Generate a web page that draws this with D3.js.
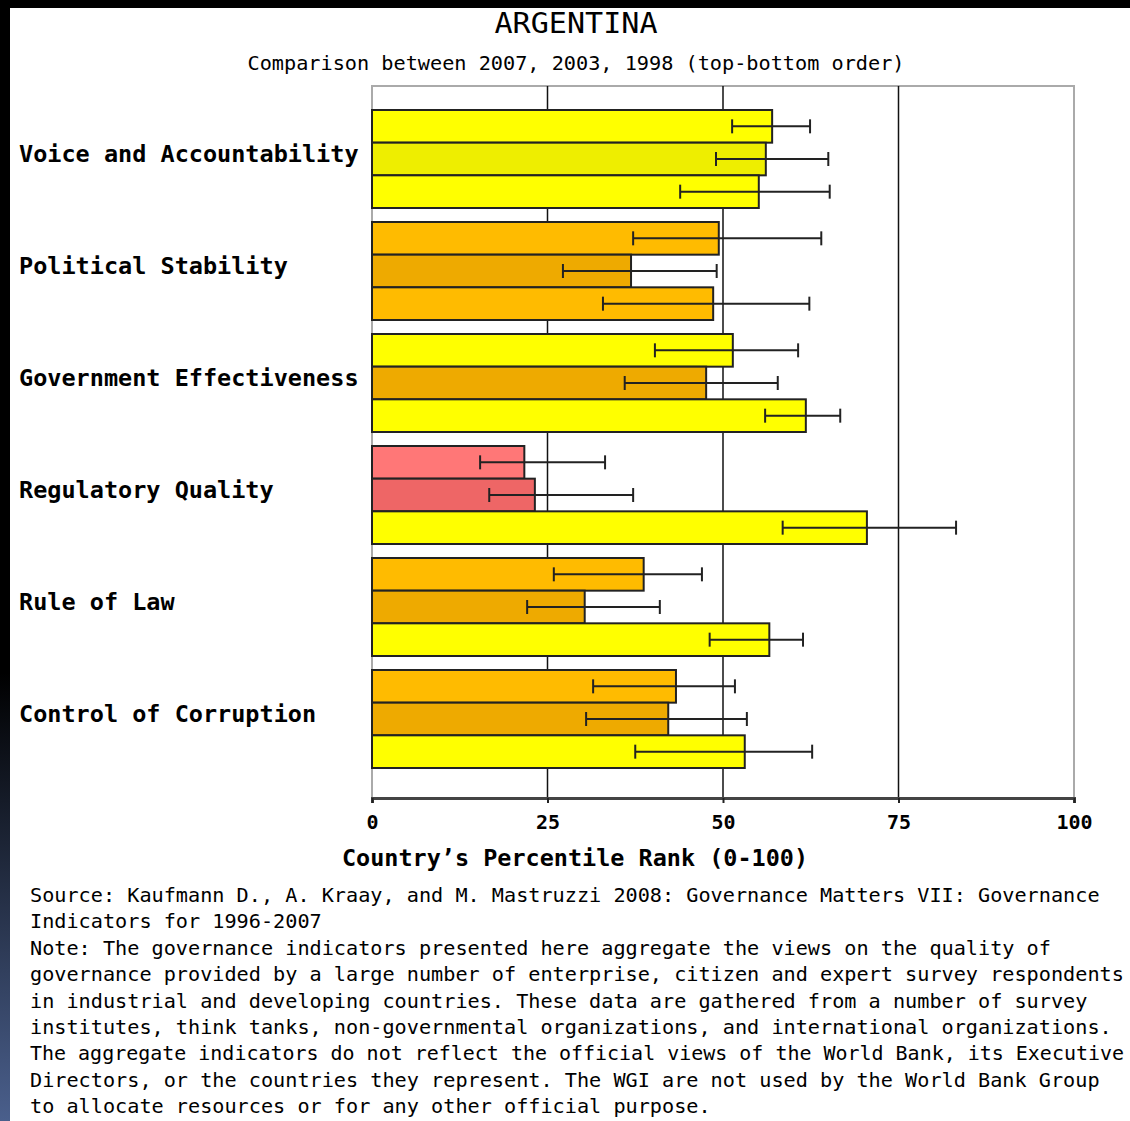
<!DOCTYPE html>
<html>
<head>
<meta charset="utf-8">
<script src="https://cdn.jsdelivr.net/npm/d3@7"></script>
<style>
  body { margin: 0; background: #000; }
  text { font-family: "DejaVu Sans Mono", "Liberation Mono", monospace; }
</style>
</head>
<body>
<div id="chart"></div>
<script>
// indicator names (top to bottom)
const categories = ['Voice and Accountability', 'Political Stability', 'Government Effectiveness',
  'Regulatory Quality', 'Rule of Law', 'Control of Corruption'];
const years = ['2007', '2003', '1998'];

// percentile ranks
const rank2007 = [57.0, 49.4, 51.4, 21.7, 38.7, 43.3];
const rank2003 = [56.1, 36.9, 47.6, 23.2, 30.3, 42.2];
const rank1998 = [55.1, 48.6, 61.8, 70.5, 56.6, 53.1];
// error bar bounds
const low2007 = [51.3, 37.2, 40.3, 15.4, 25.9, 31.5];
const high2007 = [62.4, 64.0, 60.7, 33.2, 47.0, 51.7];
const low2003 = [49.0, 27.2, 36.0, 16.7, 22.1, 30.5];
const high2003 = [65.0, 49.1, 57.8, 37.2, 41.0, 53.4];
const low1998 = [43.9, 32.9, 56.0, 58.5, 48.1, 37.5];
const high1998 = [65.2, 62.3, 66.7, 83.2, 61.4, 62.7];

const tickValues = [0, 25, 50, 75, 100];
// colour bands: upper limit, normal colour, darker (middle year) colour
const bandLimits = [10, 25, 50, 75, 90, 101];
const bandColors = ['#ff0000', '#ff7777', '#ffbb00', '#ffff00', '#99ff66', '#00cc00'];
const bandColorsDark = ['#ee0000', '#ee6666', '#eeaa00', '#eeee00', '#88ee55', '#00bb00'];

const footer = [
  'Source: Kaufmann D., A. Kraay, and M. Mastruzzi 2008: Governance Matters VII: Governance',
  'Indicators for 1996-2007',
  'Note: The governance indicators presented here aggregate the views on the quality of',
  'governance provided by a large number of enterprise, citizen and expert survey respondents',
  'in industrial and developing countries. These data are gathered from a number of survey',
  'institutes, think tanks, non-governmental organizations, and international organizations.',
  'The aggregate indicators do not reflect the official views of the World Bank, its Executive',
  'Directors, or the countries they represent. The WGI are not used by the World Bank Group',
  'to allocate resources or for any other official purpose.'
];

const rows = [];
categories.forEach(function(c, i) {
  rows.push({cat: c, year: '2007', v: rank2007[i], lo: low2007[i], hi: high2007[i]});
  rows.push({cat: c, year: '2003', v: rank2003[i], lo: low2003[i], hi: high2003[i]});
  rows.push({cat: c, year: '1998', v: rank1998[i], lo: low1998[i], hi: high1998[i]});
});

function barColor(d) {
  const k = bandLimits.findIndex(l => d.v < l);
  return d.year === '2003' ? bandColorsDark[k] : bandColors[k];
}

const width = 1130;
const height = 1121;

const svg = d3.select('#chart').append('svg')
  .attr('width', width)
  .attr('height', height);

// frame: black top, left strip fading to blue
const grad = svg.append('defs').append('linearGradient')
  .attr('id', 'strip').attr('x1', 0).attr('x2', 0).attr('y1', 0).attr('y2', 1);
grad.append('stop').attr('offset', '0.6').attr('stop-color', '#000');
grad.append('stop').attr('offset', '1').attr('stop-color', '#4a5f8c');

svg.append('rect').attr('width', width).attr('height', height).attr('fill', '#fff');
svg.append('rect').attr('width', width).attr('height', 8).attr('fill', '#000');
svg.append('rect').attr('width', 10).attr('height', height).attr('fill', 'url(#strip)');

const x = d3.scaleLinear().domain([0, 100]).range([372, 1074]);
const y = d3.scaleBand().domain(categories).range([110, 768]).paddingInner(0.125);
const yInner = d3.scaleBand().domain(years).range([0, y.bandwidth()]);
const plotTop = 86, plotBottom = 798;

// titles
svg.append('text')
  .attr('x', 576).attr('y', 33)
  .attr('text-anchor', 'middle')
  .style('font-size', '29px')
  .attr('textLength', 163).attr('lengthAdjust', 'spacingAndGlyphs')
  .text('ARGENTINA');
svg.append('text')
  .attr('x', 576).attr('y', 70)
  .attr('text-anchor', 'middle')
  .style('font-size', '20px')
  .attr('textLength', 657).attr('lengthAdjust', 'spacingAndGlyphs')
  .text('Comparison between 2007, 2003, 1998 (top-bottom order)');

// plot box
svg.append('rect')
  .attr('x', x(0)).attr('y', plotTop)
  .attr('width', x(100) - x(0)).attr('height', plotBottom - plotTop)
  .attr('fill', 'none').attr('stroke', '#aaa').attr('stroke-width', 2);

// grid lines
svg.append('g').selectAll('line')
  .data([25, 50, 75])
  .join('line')
  .attr('x1', d => x(d)).attr('x2', d => x(d))
  .attr('y1', plotTop).attr('y2', plotBottom)
  .attr('stroke', '#111').attr('stroke-width', 1.5);

// bars
const g = svg.append('g');
g.selectAll('rect')
  .data(rows)
  .join('rect')
  .attr('x', x(0))
  .attr('y', d => y(d.cat) + yInner(d.year))
  .attr('width', d => x(d.v) - x(0))
  .attr('height', yInner.bandwidth())
  .attr('fill', barColor)
  .attr('stroke', '#222').attr('stroke-width', 2);

// error bars
const eb = svg.append('g').attr('stroke', '#222').attr('stroke-width', 2);
rows.forEach(function(d) {
  const cy = y(d.cat) + yInner(d.year) + yInner.bandwidth() / 2;
  eb.append('line').attr('x1', x(d.lo)).attr('x2', x(d.hi)).attr('y1', cy).attr('y2', cy);
  eb.append('line').attr('x1', x(d.lo)).attr('x2', x(d.lo)).attr('y1', cy - 7).attr('y2', cy + 7);
  eb.append('line').attr('x1', x(d.hi)).attr('x2', x(d.hi)).attr('y1', cy - 7).attr('y2', cy + 7);
});

// category labels (sit a little above the group centre)
svg.append('g').selectAll('text')
  .data(categories)
  .join('text')
  .attr('x', 19)
  .attr('y', d => y(d) + y.bandwidth() / 2 - 5)
  .attr('dy', '0.35em')
  .style('font-size', '23.5px')
  .style('font-weight', 'bold')
  .text(d => d);

// x axis
const axis = svg.append('g')
  .attr('transform', 'translate(0,' + plotBottom + ')')
  .call(d3.axisBottom(x).tickValues(tickValues).tickSize(5).tickSizeOuter(5).tickPadding(12));
axis.select('.domain').attr('stroke', '#444').attr('stroke-width', 3);
axis.selectAll('.tick line').attr('stroke', '#222').attr('stroke-width', 2);
axis.selectAll('.tick text')
  .attr('fill', '#000')
  .style('font-family', '"DejaVu Sans Mono", monospace')
  .style('font-size', '20px')
  .style('font-weight', 'bold');

svg.append('text')
  .attr('x', 575).attr('y', 866)
  .attr('text-anchor', 'middle')
  .style('font-size', '23.5px')
  .style('font-weight', 'bold')
  .attr('textLength', 466).attr('lengthAdjust', 'spacingAndGlyphs')
  .text('Country\u2019s Percentile Rank (0-100)');

// footer notes; shrink a line's font only if it would run off the right edge
const maxRight = 1124;
const footSize = 20.2;
svg.append('g').selectAll('text')
  .data(footer)
  .join('text')
  .attr('x', 30)
  .attr('y', (d, i) => 902 + i * 26.4)
  .style('font-size', footSize + 'px')
  .text(d => d)
  .each(function() {
    const w = this.getComputedTextLength();
    if (30 + w > maxRight) {
      d3.select(this).style('font-size', (footSize * (maxRight - 30) / w).toFixed(2) + 'px');
    }
  });
</script>
</body>
</html>
